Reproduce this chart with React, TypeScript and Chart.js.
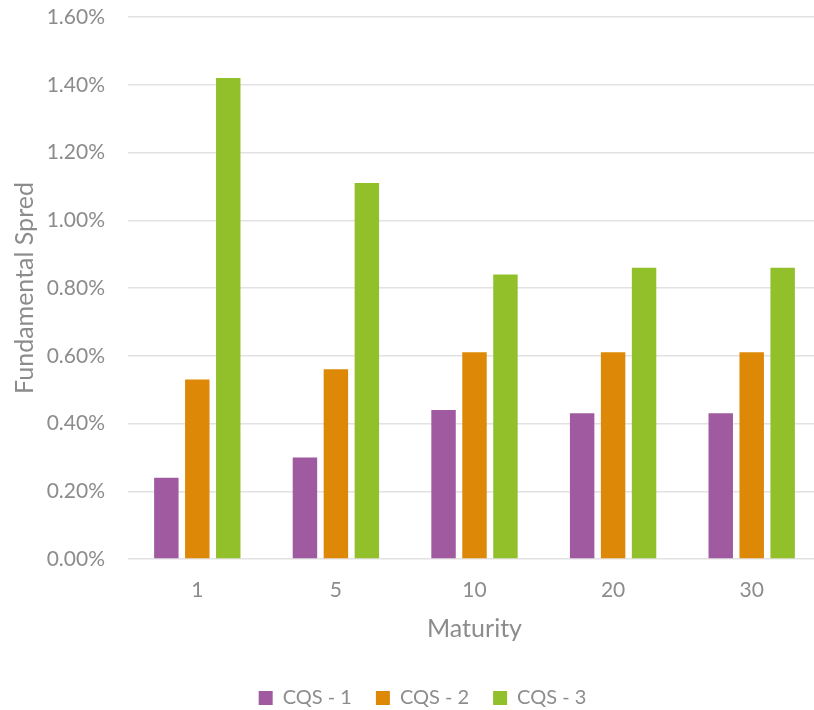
import React, { useEffect, useRef } from "react";
import { Chart, registerables } from "chart.js";

Chart.register(...registerables);

const categories = ["1", "5", "10", "20", "30"];
const cqs1 = [0.24, 0.30, 0.44, 0.43, 0.43];
const cqs2 = [0.53, 0.56, 0.61, 0.61, 0.61];
const cqs3 = [1.42, 1.11, 0.84, 0.86, 0.86];
const seriesNames = ["CQS - 1", "CQS - 2", "CQS - 3"];

const FONT = "Lato";
const GRAY = "#8c8c8c";

const legendShift = {
  id: "legendShift",
  afterLayout: (c: any) => {
    if (c.legend) {
      c.legend.left += 12;
      c.legend.right += 12;
    }
  },
};

export default function App() {
  const ref = useRef<HTMLCanvasElement>(null);
  useEffect(() => {
    if (!ref.current) return;
    const chart = new Chart(ref.current, {
      type: "bar",
      data: {
        labels: categories,
        datasets: [
          { label: seriesNames[0], data: cqs1, backgroundColor: "#A05BA0" },
          { label: seriesNames[1], data: cqs2, backgroundColor: "#DD8806" },
          { label: seriesNames[2], data: cqs3, backgroundColor: "#92C02B" },
        ],
      },
      plugins: [legendShift],
      options: {
        responsive: false,
        animation: false,
        devicePixelRatio: 1,
        layout: { padding: { top: 17, right: 0, left: 0, bottom: -8 } },
        datasets: { bar: { categoryPercentage: 0.67, barPercentage: 0.79 } },
        plugins: {
          tooltip: { enabled: false },
          legend: {
            position: "bottom",
            labels: {
              color: GRAY,
              font: { family: FONT, size: 20 },
              boxWidth: 14,
              boxHeight: 14,
              padding: 24,
            },
          },
        },
        scales: {
          x: {
            grid: { display: false, drawTicks: false },
            border: { display: false },
            ticks: { color: GRAY, font: { family: FONT, size: 21 }, padding: 19 },
            title: {
              display: true,
              text: "Maturity",
              color: GRAY,
              font: { family: FONT, size: 25 },
              padding: { top: 0, bottom: 20 },
            },
            afterFit: (s: any) => {
              s.height = 105;
            },
          },
          y: {
            min: 0,
            max: 1.6,
            grid: {
              color: "#e2e2e2",
              lineWidth: 1.5,
              drawTicks: true,
              tickLength: 23,
              tickColor: "rgba(0,0,0,0)",
            },
            border: { display: false },
            ticks: {
              stepSize: 0.2,
              color: GRAY,
              font: { family: FONT, size: 21 },
              padding: 0,
              callback: (v: any) => Number(v).toFixed(2) + "%",
            },
            title: {
              display: true,
              text: "Fundamental Spred",
              color: GRAY,
              font: { family: FONT, size: 25 },
              padding: { top: 10, bottom: 0 },
            },
            afterFit: (s: any) => {
              s.width = 128;
            },
          },
        },
      },
    });
    return () => chart.destroy();
  }, []);
  return (
    <div
      style={{
        position: "absolute",
        left: 0,
        top: 0,
        width: 814,
        height: 710,
        overflow: "hidden",
        background: "#fff",
      }}
    >
      <canvas ref={ref} width={821} height={710} style={{ display: "block" }} />
    </div>
  );
}
